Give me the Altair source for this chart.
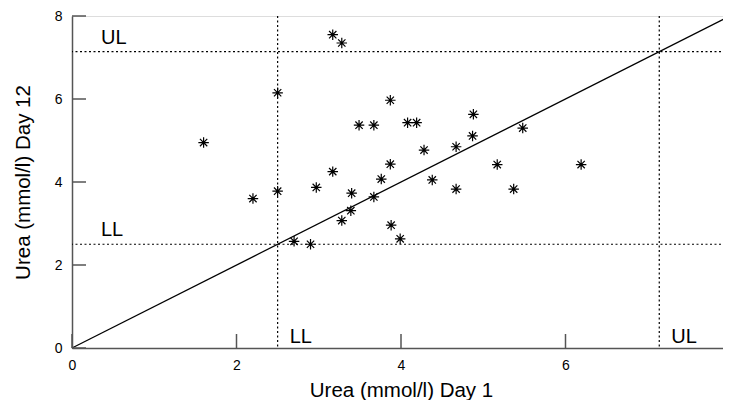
import altair as alt
import pandas as pd

# Data
day1 = [1.6, 2.2, 2.5, 2.5, 2.7, 2.9, 2.97, 3.17, 3.28, 3.17, 3.28, 3.4, 3.39,
        3.49, 3.67, 3.67, 3.76, 3.87, 3.87, 3.88, 3.99, 4.08, 4.19, 4.28, 4.38,
        4.67, 4.67, 4.88, 4.87, 5.17, 5.37, 5.48, 6.19]
day12 = [4.95, 3.6, 6.15, 3.78, 2.57, 2.5, 3.87, 7.55, 7.35, 4.25, 3.07, 3.73, 3.31,
         5.37, 5.37, 3.64, 4.07, 5.97, 4.43, 2.96, 2.63, 5.43, 5.43, 4.77, 4.05,
         4.85, 3.83, 5.63, 5.11, 4.42, 3.83, 5.30, 4.42]
LL = 2.5
UL = 7.14
tick_values = [0, 2, 4, 6, 8]
identity_ends = [0, 8]
x_title = "Urea (mmol/l) Day 1"
y_title = "Urea (mmol/l) Day 12"

pts = pd.DataFrame({"x": day1, "y": day12})
ident = pd.DataFrame({"x": identity_ends, "y": identity_ends})
vlim = pd.DataFrame({"x": [LL, UL]})
hlim = pd.DataFrame({"y": [LL, UL]})
lbl_left = pd.DataFrame({"t": ["UL", "LL"], "x": [0, 0], "y": [UL, LL]})
lbl_bottom = pd.DataFrame({"t": ["LL", "UL"], "x": [LL, UL], "y": [0, 0]})
ticks = pd.DataFrame({"v": tick_values})

FONT = "Liberation Sans"
AX = "#555555"

xs = alt.Scale(domain=[0, 8], nice=False, zero=False)
ys = alt.Scale(domain=[0, 8], nice=False, zero=False)

x_axis = alt.Axis(values=tick_values, title=x_title, ticks=False, grid=False,
                  domainColor=AX, domainWidth=1.5, labelFontSize=14,
                  labelPadding=10, labelColor="black", labelFont=FONT,
                  titleFont=FONT, titleFontSize=20.5, titleFontWeight="normal",
                  titleColor="black", titlePadding=8, labelFlush=False)
y_axis = alt.Axis(values=tick_values, title=y_title, ticks=False, grid=False,
                  domainColor=AX, domainWidth=1.5, labelFontSize=14,
                  labelPadding=10, labelColor="black", labelFont=FONT,
                  titleFont=FONT, titleFontSize=20.5, titleFontWeight="normal",
                  titleColor="black", titlePadding=21, labelFlush=False)

X = lambda f: alt.X(f, scale=xs, axis=x_axis, title=x_title)
Y = lambda f: alt.Y(f, scale=ys, axis=y_axis, title=y_title)

star = "M-1,0L1,0M0,-1L0,1M-0.7,-0.7L0.7,0.7M-0.7,0.7L0.7,-0.7"

points = alt.Chart(pts).mark_point(shape=star, filled=False, color="black",
                                   strokeWidth=1.2, size=110, opacity=1).encode(
    x=X("x:Q"), y=Y("y:Q"))

line = alt.Chart(ident).mark_line(color="black", strokeWidth=1.3).encode(
    x=X("x:Q"), y=Y("y:Q"))

vrules = alt.Chart(vlim).mark_rule(color="black", strokeWidth=1.2,
                                   strokeDash=[2, 2.5]).encode(x=X("x:Q"))
hrules = alt.Chart(hlim).mark_rule(color="black", strokeWidth=1.2,
                                   strokeDash=[2, 2.5]).encode(y=Y("y:Q"))

txt_left = alt.Chart(lbl_left).mark_text(align="left", baseline="alphabetic",
                                         dx=29, dy=-8, fontSize=20, font=FONT,
                                         color="black").encode(
    x=X("x:Q"), y=Y("y:Q"), text="t:N")
txt_bottom = alt.Chart(lbl_bottom).mark_text(align="left", baseline="alphabetic",
                                             dx=12, dy=-5, fontSize=20, font=FONT,
                                             color="black").encode(
    x=X("x:Q"), y=Y("y:Q"), text="t:N")

xticks = alt.Chart(ticks).mark_rule(color=AX, strokeWidth=1.5).encode(
    x=X("v:Q"), y=alt.value(332), y2=alt.value(318))
yticks = alt.Chart(ticks).mark_rule(color=AX, strokeWidth=1.5).encode(
    y=Y("v:Q"), x=alt.value(0), x2=alt.value(14))

chart = alt.layer(hrules, vrules, line, xticks, yticks, txt_left, txt_bottom, points).properties(
    width=658, height=332,
    autosize=alt.AutoSizeParams(type="none"),
    padding={"left": 64, "top": 8, "right": -7, "bottom": 52},
).configure_view(stroke=None).configure(font=FONT)

chart.save("out.html", embed_options={"renderer": "svg", "actions": False})
